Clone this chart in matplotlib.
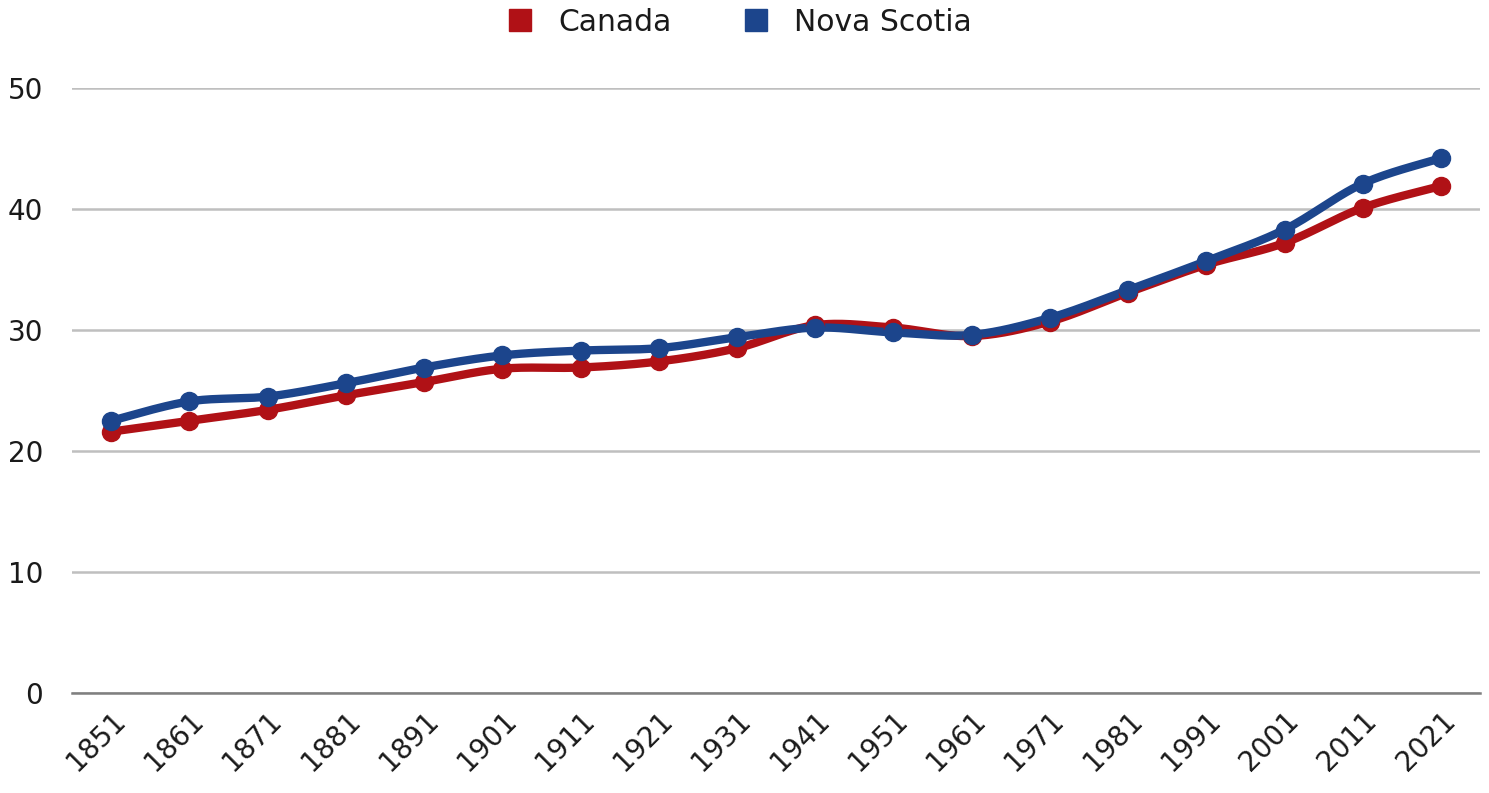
import numpy as np
import matplotlib
matplotlib.use("Agg")
import matplotlib.pyplot as plt
from matplotlib.lines import Line2D

years = ["1851", "1861", "1871", "1881", "1891", "1901", "1911", "1921", "1931",
         "1941", "1951", "1961", "1971", "1981", "1991", "2001", "2011", "2021"]
canada = [21.6, 22.5, 23.4, 24.6, 25.7, 26.8, 26.9, 27.4, 28.5,
          30.4, 30.2, 29.5, 30.7, 33.1, 35.4, 37.2, 40.1, 41.9]
nova_scotia = [22.5, 24.1, 24.5, 25.6, 26.9, 27.9, 28.3, 28.5, 29.4,
               30.2, 29.8, 29.6, 31.0, 33.3, 35.7, 38.3, 42.1, 44.2]

RED = "#B01116"
BLUE = "#1C458C"

plt.rcParams['font.family'] = ['DejaVu Sans']


def smooth(xs, ys, n=30):
    # Catmull-Rom style curve through the points (drawing style only)
    xs = np.asarray(xs, float)
    ys = np.asarray(ys, float)
    px = np.concatenate([[xs[0]], xs, [xs[-1]]])
    py = np.concatenate([[ys[0]], ys, [ys[-1]]])
    ox, oy = [], []
    t = np.linspace(0, 1, n)
    for i in range(1, len(px) - 2):
        p0, p1, p2, p3 = (np.array([px[j], py[j]]) for j in (i - 1, i, i + 1, i + 2))
        c1 = p1 + (p2 - p0) / 6
        c2 = p2 - (p3 - p1) / 6
        b = ((1 - t) ** 3)[:, None] * p1 + (3 * (1 - t) ** 2 * t)[:, None] * c1 \
            + (3 * (1 - t) * t ** 2)[:, None] * c2 + (t ** 3)[:, None] * p2
        ox.extend(b[:, 0]); oy.extend(b[:, 1])
    return np.array(ox), np.array(oy)


fig = plt.figure(figsize=(14.89, 7.93), dpi=100)
ax = fig.add_axes([0.0484, 0.1261, 0.9456, 0.7629])

x = np.arange(len(years))
for vals, col in ((canada, RED), (nova_scotia, BLUE)):
    sx, sy = smooth(x, vals)
    ax.plot(sx, sy, color=col, lw=6, solid_capstyle='round', zorder=3)
    ax.plot(x, vals, 'o', color=col, ms=13, zorder=4)

ax.set_xlim(-0.5, len(years) - 0.5)
ax.set_ylim(0, 50)
ax.set_yticks([0, 10, 20, 30, 40, 50])
ax.set_xticks(x)
ax.set_xticklabels(years, rotation=45, ha='right', rotation_mode='anchor')
ax.tick_params(axis='both', length=0, labelsize=20, colors='#1A1A1A')
ax.tick_params(axis='y', pad=21)
ax.tick_params(axis='x', pad=10)

ax.grid(axis='y', color='#BFBFBF', lw=1.8)
ax.set_axisbelow(True)
for s in ('top', 'right', 'left'):
    ax.spines[s].set_visible(False)
ax.spines['bottom'].set_color('#7F7F7F')
ax.spines['bottom'].set_linewidth(1.8)

handles = [Line2D([], [], marker='s', ls='none', color=RED, ms=16, label='Canada'),
           Line2D([], [], marker='s', ls='none', color=BLUE, ms=16, label='Nova Scotia')]
fig.legend(handles=handles, loc='center', bbox_to_anchor=(0.496, 0.972), ncol=2,
           frameon=False, fontsize=21.5, handletextpad=0.8, columnspacing=2.3,
           handlelength=1.0, labelcolor='#1A1A1A')

fig.savefig("out.png", dpi=100)
